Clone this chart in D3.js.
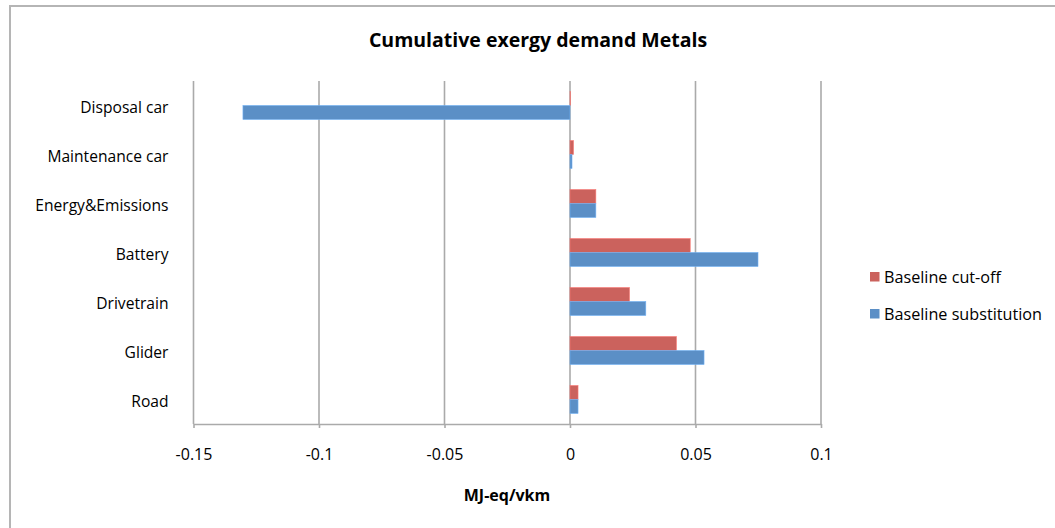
<!DOCTYPE html>
<html><head><meta charset="utf-8">
<script src="https://cdn.jsdelivr.net/npm/d3@7"></script>
<style>body{margin:0;background:#fff;} svg{display:block;}</style>
</head><body>
<svg id="chart" width="1055" height="528"></svg>
<script>
const categories = ["Disposal car","Maintenance car","Energy&Emissions","Battery","Drivetrain","Glider","Road"];
const seriesNames = ["Baseline cut-off","Baseline substitution"];
const cutoffValues = [0.0002,0.0014,0.0103,0.0479,0.0237,0.0424,0.0032];
const substitutionValues = [-0.1303,0.0008,0.0103,0.0749,0.0302,0.0534,0.0032];
const xTicks = [-0.15,-0.1,-0.05,0,0.05,0.1];
const seriesColors = ["#CB625D","#5B8FC6"];

(function(){
const svg = d3.select("#chart");
const font = "'Open Sans', sans-serif";
svg.append("rect").attr("x",10).attr("y",6).attr("width",1200).attr("height",800)
  .attr("fill","#fff").attr("stroke","#b5b5b5").attr("stroke-width",2);

const pLeft=193.5,pRight=821,pTop=81,pBottom=424;
const x = d3.scaleLinear().domain([-0.15,0.1]).range([pLeft,pRight]);
const y = d3.scaleBand().domain(categories).range([pTop,pBottom]).paddingInner(0.43).paddingOuter(0.215);
const ys = d3.scaleBand().domain([0,1]).range([0,y.bandwidth()]);

const g = svg.append("g");
g.selectAll("line.grid").data(xTicks).join("line").attr("class","grid")
  .attr("x1",d=>x(d)).attr("x2",d=>x(d)).attr("y1",pTop).attr("y2",pBottom)
  .attr("stroke","#aaaaaa").attr("stroke-width",1.6);

const data = categories.map((c,i)=>({c, vals:[cutoffValues[i],substitutionValues[i]]}));
data.forEach(d=>{
  d.vals.forEach((v,j)=>{
    g.append("rect")
      .attr("x",x(Math.min(0,v))).attr("width",Math.abs(x(v)-x(0)))
      .attr("y",y(d.c)+ys(j)).attr("height",ys.bandwidth())
      .attr("fill",seriesColors[j])
      .attr("stroke",d3.color(seriesColors[j]).brighter(0.6)).attr("stroke-width",0.6);
  });
});

const xAxis = d3.axisBottom(x).tickValues(xTicks).tickFormat(d=>String(d)).tickSize(4).tickSizeOuter(0).tickPadding(21);
const ax = svg.append("g").attr("transform",`translate(0,${pBottom})`).call(xAxis);
ax.select(".domain").attr("stroke","#aaaaaa").attr("stroke-width",1.6);
ax.selectAll(".tick line").attr("stroke","#aaaaaa").attr("stroke-width",1.6);
ax.selectAll("text").attr("font-family",font).attr("font-size",16).attr("fill","#000");

const yAxis = d3.axisLeft(y).tickSize(0).tickPadding(25);
const ay = svg.append("g").attr("transform",`translate(${pLeft},0)`).call(yAxis);
ay.select(".domain").remove();
ay.selectAll("text").attr("font-family",font).attr("font-size",15.6).attr("fill","#000").attr("dy","0.5em");

svg.append("text").attr("x",538).attr("y",47).attr("text-anchor","middle")
  .attr("font-family",font).attr("font-weight","bold").attr("font-size",19.5).attr("fill","#000")
  .text("Cumulative exergy demand Metals");
svg.append("text").attr("x",507).attr("y",501).attr("text-anchor","middle")
  .attr("font-family",font).attr("font-weight","bold").attr("font-size",16).attr("fill","#000")
  .text("MJ-eq/vkm");

const lg = svg.append("g").attr("transform","translate(870,272)");
seriesNames.forEach((n,i)=>{
  lg.append("rect").attr("x",0).attr("y",i*37).attr("width",9.5).attr("height",9.5).attr("fill",seriesColors[i]);
  lg.append("text").attr("x",14).attr("y",i*37+5.5).attr("dy","0.35em")
    .attr("font-family",font).attr("font-size",16.2).attr("fill","#000").text(n);
});
})();
</script>
</body></html>
